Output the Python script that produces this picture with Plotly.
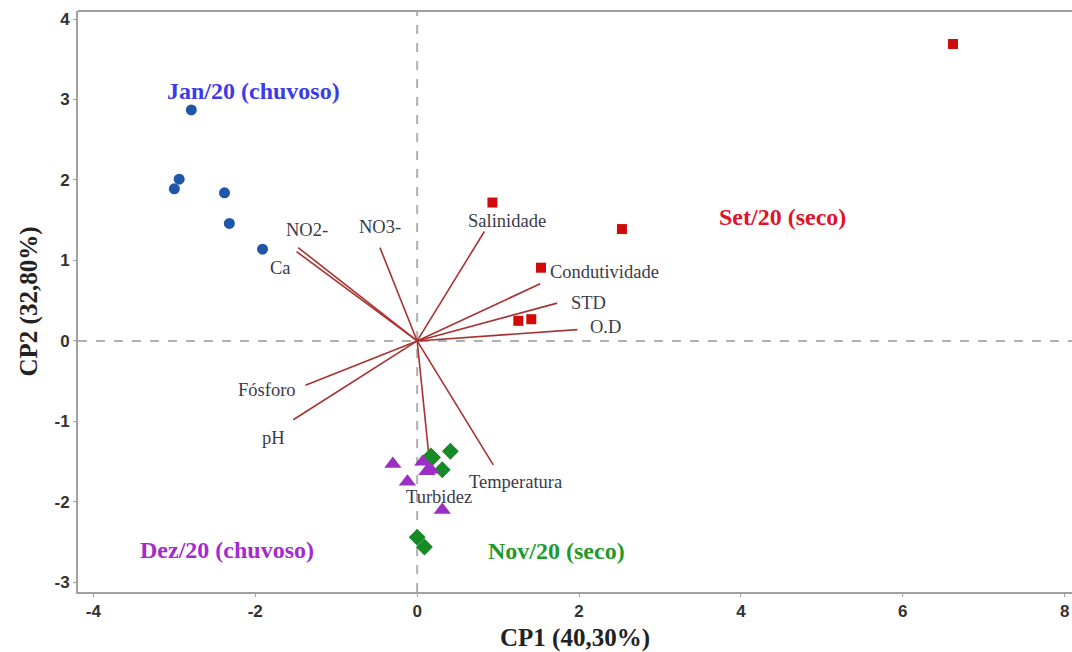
import plotly.graph_objects as go

# Sample scores (CP1, CP2)
jan_x = [-2.79, -2.94, -3.00, -2.38, -2.32, -1.91]
jan_y = [2.87, 2.01, 1.89, 1.84, 1.46, 1.14]
set_x = [6.62, 2.53, 0.93, 1.53, 1.25, 1.41]
set_y = [3.69, 1.39, 1.72, 0.91, 0.25, 0.27]
dez_x = [-0.30, -0.12, 0.07, 0.12, 0.17, 0.31]
dez_y = [-1.53, -1.75, -1.50, -1.62, -1.60, -2.10]
nov_x = [0.17, 0.41, 0.31, 0.00, 0.09, 0.19]
nov_y = [-1.43, -1.37, -1.60, -2.44, -2.56, -1.45]

# Variable loadings (vector tips)
var_names = ["NO2-", "Ca", "NO3-", "Salinidade", "Condutividade", "STD", "O.D",
             "Fósforo", "pH", "Turbidez", "Temperatura"]
var_x = [-1.47, -1.49, -0.46, 0.83, 1.52, 1.73, 1.98, -1.38, -1.53, 0.14, 0.94]
var_y = [1.16, 1.11, 1.16, 1.36, 0.71, 0.47, 0.14, -0.55, -0.98, -1.38, -1.54]
label_x = [-1.36, -1.69, -0.46, 1.11, 2.31, 2.12, 2.33, -1.85, -1.78, 0.27, 1.21]
label_y = [1.38, 0.91, 1.42, 1.49, 0.86, 0.47, 0.17, -0.61, -1.21, -1.94, -1.75]

groups = ["Jan/20 (chuvoso)", "Set/20 (seco)", "Dez/20 (chuvoso)", "Nov/20 (seco)"]
group_x = [-2.02, 4.51, -2.35, 1.72]
group_y = [3.10, 1.54, -2.60, -2.61]
group_colors = ["#3b3bea", "#e0142a", "#a52ad0", "#1f9a2a"]

x_ticks = [-4, -2, 0, 2, 4, 6, 8]
y_ticks = [-3, -2, -1, 0, 1, 2, 3, 4]

fig = go.Figure()

# loading vectors
vx, vy = [], []
for x, y in zip(var_x, var_y):
    vx += [0, x, None]
    vy += [0, y, None]
fig.add_trace(go.Scatter(x=vx, y=vy, mode="lines",
                         line=dict(color="#a83232", width=1.6),
                         hoverinfo="skip", showlegend=False))

fig.add_trace(go.Scatter(x=jan_x, y=jan_y, mode="markers",
                         marker=dict(symbol="circle", size=11, color="#1f56a8"),
                         showlegend=False))
fig.add_trace(go.Scatter(x=set_x, y=set_y, mode="markers",
                         marker=dict(symbol="square", size=10, color="#d10a0a"),
                         showlegend=False))
fig.add_trace(go.Scatter(x=nov_x, y=nov_y, mode="markers",
                         marker=dict(symbol="diamond", size=13, color="#168a24"),
                         showlegend=False))
fig.add_trace(go.Scatter(x=dez_x, y=dez_y, mode="markers",
                         marker=dict(symbol="triangle-up", size=15, color="#9b2fc4"),
                         showlegend=False))

for name, x, y in zip(var_names, label_x, label_y):
    fig.add_annotation(x=x, y=y, text=name, showarrow=False,
                       font=dict(family="Liberation Serif", size=18.5, color="#3a3a48"))

for name, x, y, c in zip(groups, group_x, group_y, group_colors):
    fig.add_annotation(x=x, y=y, text="<b>" + name + "</b>", showarrow=False,
                       font=dict(family="Liberation Serif", size=24, color=c))

# reference lines
fig.add_shape(type="line", xref="x", yref="paper", x0=0, x1=0, y0=0, y1=1,
              line=dict(color="#b0b0b0", width=2, dash="dash"), layer="below")
fig.add_shape(type="line", xref="paper", yref="y", x0=0, x1=1, y0=0, y1=0,
              line=dict(color="#b0b0b0", width=2, dash="dash"), layer="below")
# top border
fig.add_shape(type="line", xref="paper", yref="paper", x0=0, x1=1, y0=1, y1=1,
              line=dict(color="#a0a0a0", width=2))

fig.update_xaxes(range=[-4.19, 8.09], tickvals=x_ticks,
                 ticktext=[str(v) for v in x_ticks], automargin=False,
                 ticklabeloverflow="allow",
                 ticks="outside", ticklen=3, tickcolor="#a0a0a0",
                 showline=True, linecolor="#a0a0a0", linewidth=2,
                 showgrid=False, zeroline=False,
                 tickfont=dict(family="Liberation Sans", size=17, color="#333333", weight="bold"),
                 title=dict(text="<b>CP1 (40,30%)</b>", standoff=14,
                            font=dict(family="Liberation Serif", size=25, color="#222222")))
fig.update_yaxes(range=[-3.12, 4.10], tickvals=y_ticks,
                 ticktext=[str(v) for v in y_ticks], automargin=False,
                 ticks="outside", ticklen=3, tickcolor="#a0a0a0",
                 showline=True, linecolor="#a0a0a0", linewidth=2,
                 showgrid=False, zeroline=False,
                 tickfont=dict(family="Liberation Sans", size=17, color="#333333", weight="bold"),
                 title=dict(text="<b>CP2 (32,80%)</b>", standoff=10,
                            font=dict(family="Liberation Serif", size=25, color="#222222")))

fig.update_layout(width=1072, height=652,
                  margin=dict(l=78, r=0, t=11, b=60),
                  plot_bgcolor="white", paper_bgcolor="white")

fig.write_html("out.html",
               config={"displayModeBar": False},
               post_script="document.body.style.margin='0';document.body.style.overflow='hidden';")
